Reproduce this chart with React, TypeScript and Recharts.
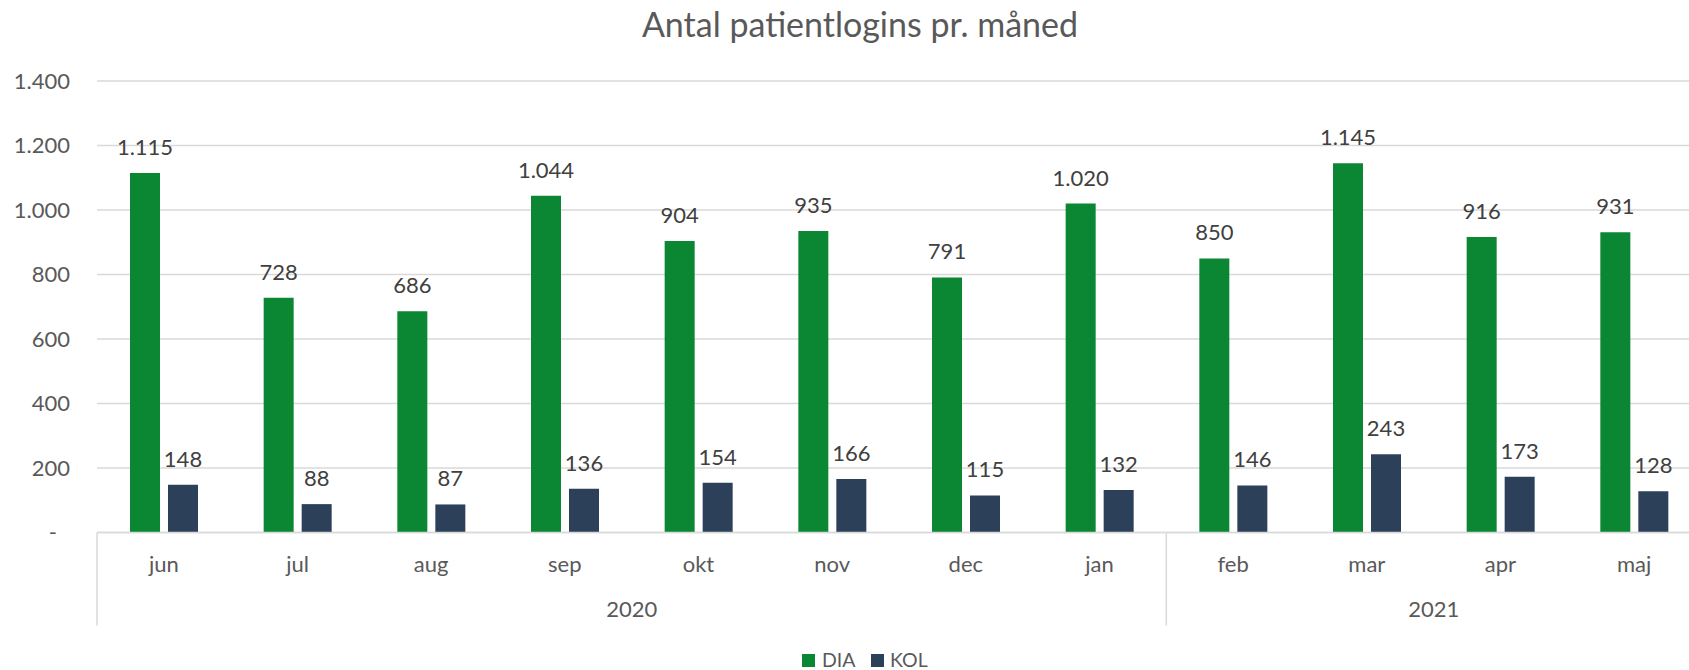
import React from "react";
import { BarChart, Bar, XAxis, YAxis, CartesianGrid, LabelList } from "recharts";

const months = ["jun", "jul", "aug", "sep", "okt", "nov", "dec", "jan", "feb", "mar", "apr", "maj"];
const years = [
  { label: "2020", count: 8 },
  { label: "2021", count: 4 },
];
const dia = [1115, 728, 686, 1044, 904, 935, 791, 1020, 850, 1145, 916, 931];
const kol = [148, 88, 87, 136, 154, 166, 115, 132, 146, 243, 173, 128];
const yTicks = [0, 200, 400, 600, 800, 1000, 1200, 1400];

const data = months.map((m, i) => ({ month: m, DIA: dia[i], KOL: kol[i] }));

// index of the first month in each year group
const yearStarts = years.map((y, i) => ({
  ...y,
  start: years.slice(0, i).reduce((s, g) => s + g.count, 0),
}));

const FONT = "Lato, 'Open Sans', sans-serif";
const AXIS_TEXT = "#595959";
const LABEL_TEXT = "#404040";
const LINE = "#d9d9d9";
const GREEN = "#0b8733";
const NAVY = "#2c405a";
const FS = 22;

const fmt = (v: number) =>
  v === 0 ? "-" : String(v).replace(/\B(?=(\d{3})+(?!\d))/g, ".");

function YTick({ x, y, payload }: any) {
  if (payload.value === 0) {
    return (
      <text x={x - 13} y={y} dy="0.35em" textAnchor="end" fill={AXIS_TEXT} fontSize={FS} fontFamily={FONT}>
        -
      </text>
    );
  }
  return (
    <text x={x} y={y} dy="0.35em" textAnchor="end" fill={AXIS_TEXT} fontSize={FS} fontFamily={FONT}>
      {fmt(payload.value)}
    </text>
  );
}

function MonthTick({ x, y, payload, index }: any) {
  const half = payload.offset ?? 66.8;
  const group = yearStarts.find((g) => g.start === index);
  const isLast = index === months.length - 1;
  return (
    <g>
      <text x={x} y={y + 39} textAnchor="middle" fill={AXIS_TEXT} fontSize={FS} fontFamily={FONT}>
        {payload.value}
      </text>
      {group && (
        <>
          <line x1={x - half} x2={x - half} y1={y} y2={y + 93} stroke={LINE} strokeWidth={1.5} />
          <text
            x={x - half + group.count * half}
            y={y + 84.5}
            textAnchor="middle"
            fill={AXIS_TEXT}
            fontSize={FS}
            fontFamily={FONT}
          >
            {group.label}
          </text>
        </>
      )}
      {isLast && <line x1={x + half} x2={x + half} y1={y} y2={y + 93} stroke={LINE} strokeWidth={1.5} />}
    </g>
  );
}

function BarLabel({ x, y, width, value }: any) {
  return (
    <text x={x + width / 2} y={y - 18} textAnchor="middle" fill={LABEL_TEXT} fontSize={FS} fontFamily={FONT}>
      {fmt(value)}
    </text>
  );
}

export default function App() {
  return (
    <div
      style={{
        position: "absolute",
        left: 0,
        top: 0,
        width: 1689,
        height: 670,
        overflow: "hidden",
        background: "#fff",
      }}
    >
      <BarChart
        width={1720}
        height={670}
        data={data}
        margin={{ top: 81, right: 19, bottom: 44.5, left: 0 }}
        barSize={30}
        barGap={8}
      >
        <CartesianGrid vertical={false} stroke={LINE} strokeWidth={1.5} />
        <YAxis
          width={97}
          domain={[0, 1400]}
          ticks={yTicks}
          axisLine={false}
          tickLine={false}
          tickSize={0}
          tickMargin={27}
          tick={<YTick />}
        />
        <XAxis
          dataKey="month"
          height={93}
          interval={0}
          tickLine={false}
          tickSize={0}
          tickMargin={0}
          axisLine={{ stroke: LINE, strokeWidth: 1.5 }}
          tick={<MonthTick />}
        />
        <Bar dataKey="DIA" fill={GREEN} isAnimationActive={false}>
          <LabelList dataKey="DIA" content={<BarLabel />} />
        </Bar>
        <Bar dataKey="KOL" fill={NAVY} isAnimationActive={false}>
          <LabelList dataKey="KOL" content={<BarLabel />} />
        </Bar>
      </BarChart>
      <svg
        width={1689}
        height={670}
        style={{ position: "absolute", left: 0, top: 0, pointerEvents: "none" }}
      >
        <text x={860} y={37} textAnchor="middle" fill={AXIS_TEXT} fontSize={34} fontFamily={FONT}>
          Antal patientlogins pr. måned
        </text>
        <rect x={802} y={654} width={13} height={13} fill={GREEN} />
        <text x={822} y={667} fill={AXIS_TEXT} fontSize={19.5} fontFamily={FONT}>
          DIA
        </text>
        <rect x={871} y={654} width={13} height={13} fill={NAVY} />
        <text x={890} y={667} fill={AXIS_TEXT} fontSize={19.5} fontFamily={FONT}>
          KOL
        </text>
      </svg>
    </div>
  );
}
